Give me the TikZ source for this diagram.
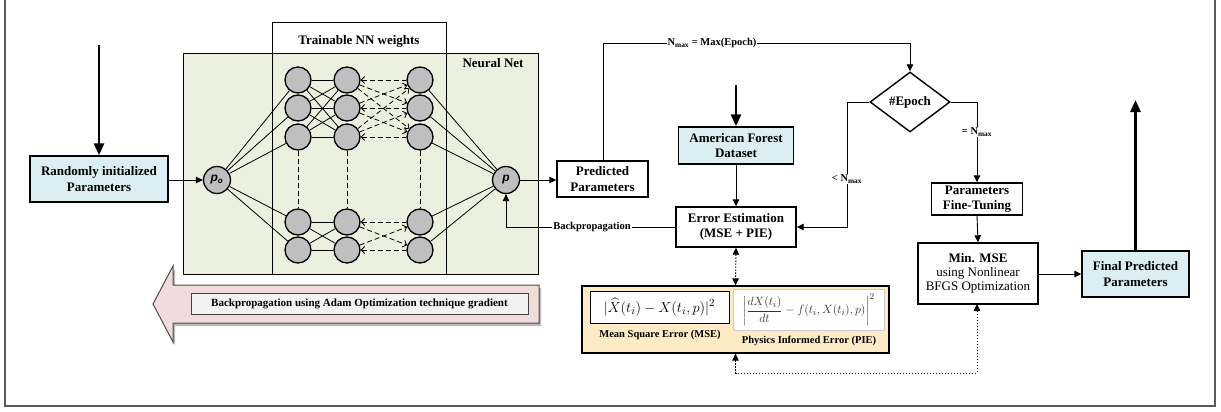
\documentclass[tikz,border=0pt]{standalone}
\usepackage{fontspec}
\setmainfont{Liberation Serif}
\setsansfont{Liberation Sans}
\usepackage{amsmath}
\usetikzlibrary{arrows.meta,shapes.geometric,calc}
\definecolor{boxblue}{HTML}{DAEEF3}
\definecolor{nngreen}{HTML}{EBF1DE}
\definecolor{pinkarrow}{HTML}{F2DCDB}
\definecolor{labelgray}{HTML}{F2F2F2}
\definecolor{neurongray}{HTML}{BFBFBF}
\definecolor{formulayellow}{HTML}{FDEBC6}
\definecolor{framegray}{HTML}{5A5A5A}
\tikzset{
  box/.style={draw, line width=1.4pt, inner sep=0pt, align=center, font=\fontsize{13}{15.5}\selectfont\bfseries},
  bluebox/.style={box, fill=boxblue},
  neuron/.style={circle, draw, line width=1.3pt, fill=neurongray, minimum size=26pt, inner sep=0pt},
  io/.style={circle, draw, line width=1.3pt, fill=neurongray, minimum size=27pt, inner sep=0pt, font=\sffamily\bfseries\itshape\fontsize{12}{12}\selectfont},
  nnline/.style={line width=0.8pt},
  dline/.style={line width=0.8pt, dash pattern=on 5pt off 3pt, arrows={-}},
  barb/.style={-{Straight Barb[length=3.5pt,width=7pt]}},
  rbarb/.style={{Straight Barb[length=3.5pt,width=7pt]}-},
  conn/.style={line width=0.9pt, -{Triangle[length=7pt,width=6.5pt]}},
  heavy/.style={line width=2.6pt, -{Triangle[length=12pt,width=10pt]}},
  dotconn/.style={line width=0.9pt, dash pattern=on 1.5pt off 1.5pt, {Triangle[length=7pt,width=6.5pt]}-{Triangle[length=7pt,width=6.5pt]}},
  lbl/.style={fill=white, inner sep=1pt, font=\fontsize{10.5}{12}\selectfont\bfseries},
  smalllbl/.style={font=\fontsize{10.5}{12}\selectfont\bfseries, inner sep=0pt},
}
\begin{document}
\begin{tikzpicture}[x=1pt,y=-1pt]
\useasboundingbox (0,0) rectangle (1221,412);
% outer frame (top edge outside the picture)
\draw[framegray, line width=1.3pt] (5,-10) -- (5,406) -- (1215,406) -- (1215,-10);

% neural net region
\draw[fill=nngreen, line width=1pt] (183,54) rectangle (538,274);
\draw[line width=1pt] (272,23) rectangle (446,274);
\node[font=\fontsize{13}{15}\selectfont\bfseries] (tw) at (359,41) {Trainable NN weights};
\node[font=\fontsize{13}{15}\selectfont\bfseries] (nnlabel) at (493,63) {Neural Net};

% neurons
\foreach \c/\x in {1/298,2/347,3/420}{
  \foreach \r/\y in {1/80,2/108,3/137,4/222,5/250}{
    \node[neuron] (n\c\r) at (\x,\y) {};
  }
}
\node[io] (po) at (217,180) {p\textsubscript{o}};
\node[io] (p) at (506,180) {p};

% connections
\foreach \r in {1,...,5} \draw[nnline] (po) -- (n1\r);
\foreach \a in {1,2,3} \foreach \b in {1,2,3} \draw[nnline] (n1\a) -- (n2\b);
\foreach \a in {4,5} \foreach \b in {4,5} \draw[nnline] (n1\a) -- (n2\b);
\foreach \a in {1,2,3} \draw[dline,rbarb] (n2\a) -- (n3\a);
\foreach \a/\b in {1/2,1/3,2/1,2/3,3/1,3/2} \draw[dline,barb] (n2\a) -- (n3\b);
\foreach \a in {4,5} \draw[dline,rbarb] (n2\a) -- (n3\a);
\draw[dline,barb] (n24) -- (n35);
\draw[dline,barb] (n25) -- (n34);
\foreach \c in {1,2,3} \draw[dline] (n\c3) -- (n\c4);
\foreach \r in {1,...,5} \draw[nnline] (n3\r) -- (p);

% big backpropagation arrow
\draw[fill=gray!55, draw=none] (155,306) -- (175,269) -- (175,288) -- (541,288) -- (541,326) -- (175,326) -- (175,345) -- cycle;
\draw[fill=pinkarrow, draw=gray!60!black, line width=1pt] (153,304) -- (173,266) -- (173,285) -- (539,285) -- (539,323) -- (173,323) -- (173,342) -- cycle;
\node[draw=gray!50!black, fill=labelgray, line width=0.9pt, minimum width=337pt, minimum height=21pt, inner sep=0pt, font=\fontsize{11}{12}\selectfont\bfseries] (bplabel) at (359.5,303.5) {Backpropagation using Adam Optimization technique gradient};

% boxes
\node[bluebox, minimum width=138pt, minimum height=46pt] (rand) at (99,179) {Randomly initialized\\Parameters};
\coordinate (randtop) at (99,45);
\node[box, minimum width=91pt, minimum height=36pt] (pred) at (602.5,179) {Predicted\\Parameters};
\node[bluebox, minimum width=115pt, minimum height=37pt] (data) at (736,145.5) {American Forest\\Dataset};
\coordinate (datatop) at (736,85);
\node[box, minimum width=120pt, minimum height=40pt] (err) at (736,227) {Error Estimation\\(MSE + PIE)};
\node[diamond, draw, line width=1.4pt, minimum width=80pt, minimum height=60pt, inner sep=0pt, aspect=1.333, font=\fontsize{13}{15}\selectfont\bfseries] (epoch) at (910,102) {\#Epoch};
\node[box, minimum width=91pt, minimum height=32pt] (fine) at (977,199) {Parameters\\Fine-Tuning};
\node[box, minimum width=120pt, minimum height=61pt, font=\fontsize{13}{14}\selectfont] (minmse) at (978,273.5) {\textbf{Min. MSE}\\using Nonlinear\\BFGS Optimization};
\node[bluebox, minimum width=107pt, minimum height=46pt] (final) at (1135.5,274) {Final Predicted\\Parameters};
\coordinate (finaltop) at (1135.5,100);

% formula box
\node[draw, line width=1.2pt, fill=formulayellow, minimum width=307pt, minimum height=67pt, inner sep=0pt] (formula) at (735.5,319.5) {};
\node[draw, line width=1pt, fill=white, minimum width=139pt, minimum height=32pt, inner sep=0pt, font=\fontsize{15.5}{17}\selectfont] (msef) at (659.5,307) {$\lvert\widehat{X}(t_i)-X(t_i,p)\rvert^2$};
\node[draw=gray!40, line width=0.8pt, fill=white, minimum width=151pt, minimum height=41pt, inner sep=0pt, text=black!80, font=\fontsize{12.8}{14}\selectfont] (pief) at (808.5,309.5) {$\left|\dfrac{dX(t_i)}{dt}-f(t_i,X(t_i),p)\right|^2$};
\node[smalllbl] (mselbl) at (660,335) {Mean Square Error (MSE)};
\node[smalllbl] (pielbl) at (809,341) {Physics Informed Error (PIE)};

% heavy arrows
\draw[heavy] (randtop) -- (rand.north);
\draw[heavy] (datatop) -- (data.north);
\draw[heavy] (final.north) -- (finaltop);

% connectors
\draw[conn] (rand.east |- po) -- (po);
\draw[conn] (p) -- (pred.west |- p);
\draw[conn] (data.south) -- (err.north);
\draw[conn] (err.west) -- (p.south |- err.west) -- (p.south);
\node[lbl] at (592,227) {Backpropagation};
\draw[conn] (pred.north -| 603,0) -- (603,43) -- (910,43) -- (epoch.north);
\node[lbl] at (712,43) {N\textsubscript{max} = Max(Epoch)};
\draw[conn] (epoch.west) -- (847,102) -- (847,227) -- (err.east);
\node[lbl] at (847,179) {< N\textsubscript{max}};
\draw[conn] (epoch.east) -- (977,102) -- (fine.north);
\node[lbl] at (977,132) {= N\textsubscript{max}};
\draw[conn] (fine.south) -- (minmse.south |- minmse.north);
\draw[conn] (minmse.east |- final.west) -- (final.west);
\draw[dotconn] (err.south) -- (formula.north);
\draw[dotconn] (formula.south) -- (735.5,373) -- (977,373) -- (977,304);
\end{tikzpicture}
\end{document}
